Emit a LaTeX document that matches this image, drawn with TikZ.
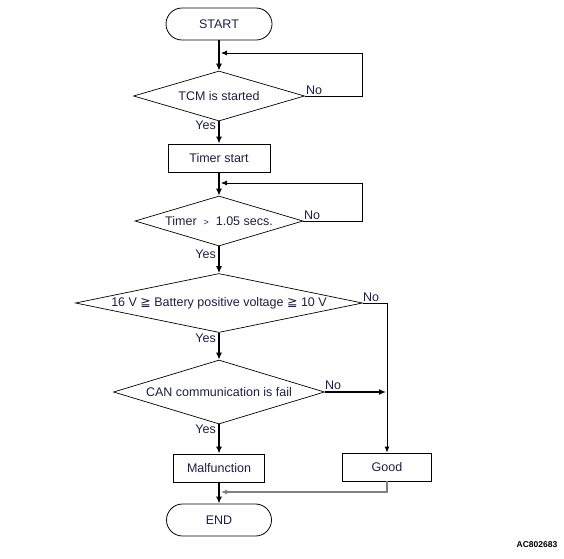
\documentclass[tikz,border=0pt]{standalone}
\usepackage{fontspec}
\setmainfont{Liberation Sans}
\newfontfamily\symfont{DejaVu Sans}
\usetikzlibrary{arrows.meta,shapes.geometric}
\definecolor{textcol}{RGB}{30,30,70}
\begin{document}
\begin{tikzpicture}[x=1pt, y=-1pt,
		font=\fontsize{12.5}{14}\selectfont, text=textcol,
		terminal/.style={draw, line width=0.8pt, rounded corners=16pt, minimum width=106pt, minimum height=32pt},
		process/.style={draw, line width=0.8pt, minimum height=28pt},
		decision/.style={draw, diamond, line width=0.7pt, inner sep=0pt},
		flow/.style={line width=1.7pt, -{Latex[length=7pt,width=6pt]}},
		loop/.style={line width=0.8pt, -{Latex[length=6pt,width=5pt]}},
		side/.style={line width=1pt, -{Latex[length=6pt,width=5pt]}},
		back/.style={line width=1.1pt, gray, -{Latex[length=6pt,width=5pt]}},
		lbl/.style={inner sep=0pt}]
	\useasboundingbox (0,0) rectangle (564,558);
	%steps
	\node[terminal] (start) at (219,24) {START};
	\node[decision, aspect=3.42, minimum width=171pt, minimum height=50pt] (tcm) at (219,96) {TCM is started};
	\node[process, minimum width=102pt] (timer) at (219,158) {Timer start};
	\node[decision, aspect=3.36, minimum width=168pt, minimum height=50pt] (chk) at (219,221) {Timer\ \ {\fontsize{9}{10}\selectfont >}\ \ 1.05 secs.};
	\node[decision, aspect=4.86, minimum width=287pt, minimum height=59pt] (volt) at (219,303) {16 V {\symfont ≧} Battery positive voltage {\symfont ≧} 10 V};
	\node[decision, aspect=3.3, minimum width=211pt, minimum height=64pt] (can) at (219,392) {CAN communication is fail};
	\node[process, minimum width=91pt] (mal) at (219,468) {Malfunction};
	\node[process, minimum width=89pt] (good) at (387,467) {Good};
	\node[terminal, minimum width=105pt] (end) at (219,520) {END};
	
	%joins
	\coordinate (loopa) at (362,53);
	\coordinate (joina) at (221,53);
	\coordinate (loopb) at (362,183);
	\coordinate (joinb) at (221,183);
	\coordinate (joinc) at (386,392);
	\coordinate (joind) at (221,492);
	
	%connectors
	\draw[flow] (start) -- (tcm);
	\draw[loop] (tcm.east) -| (loopa) -- (joina);
	\draw[flow] (tcm) -- (timer);
	\draw[flow] (timer) -- (chk);
	\draw[loop] (chk.east) -| (loopb) -- (joinb);
	\draw[flow] (chk) -- (volt);
	\draw[side] (volt.east) -| (good.north);
	\draw[flow] (volt) -- (can);
	\draw[flow] (can.east) -- (joinc);
	\draw[flow] (can) -- (mal);
	\draw[back] (good.south) |- (joind);
	\draw[flow] (mal) -- (end);
	
	%labels
	\node[lbl, anchor=south west] (no1) at (306,95) {No};
	\node[lbl, anchor=south west] (no2) at (304,220) {No};
	\node[lbl, anchor=south west] (no3) at (363,302) {No};
	\node[lbl, anchor=south west] (no4) at (325,390) {No};
	\node[lbl, anchor=east] (yes1) at (216,125) {Yes};
	\node[lbl, anchor=east] (yes2) at (216,254) {Yes};
	\node[lbl, anchor=east] (yes3) at (216,338) {Yes};
	\node[lbl, anchor=east] (yes4) at (216,429) {Yes};
	\node[lbl, font=\fontsize{8.5}{10}\selectfont\bfseries, text=black] (code) at (537,545) {AC802683};
\end{tikzpicture}
\end{document}
